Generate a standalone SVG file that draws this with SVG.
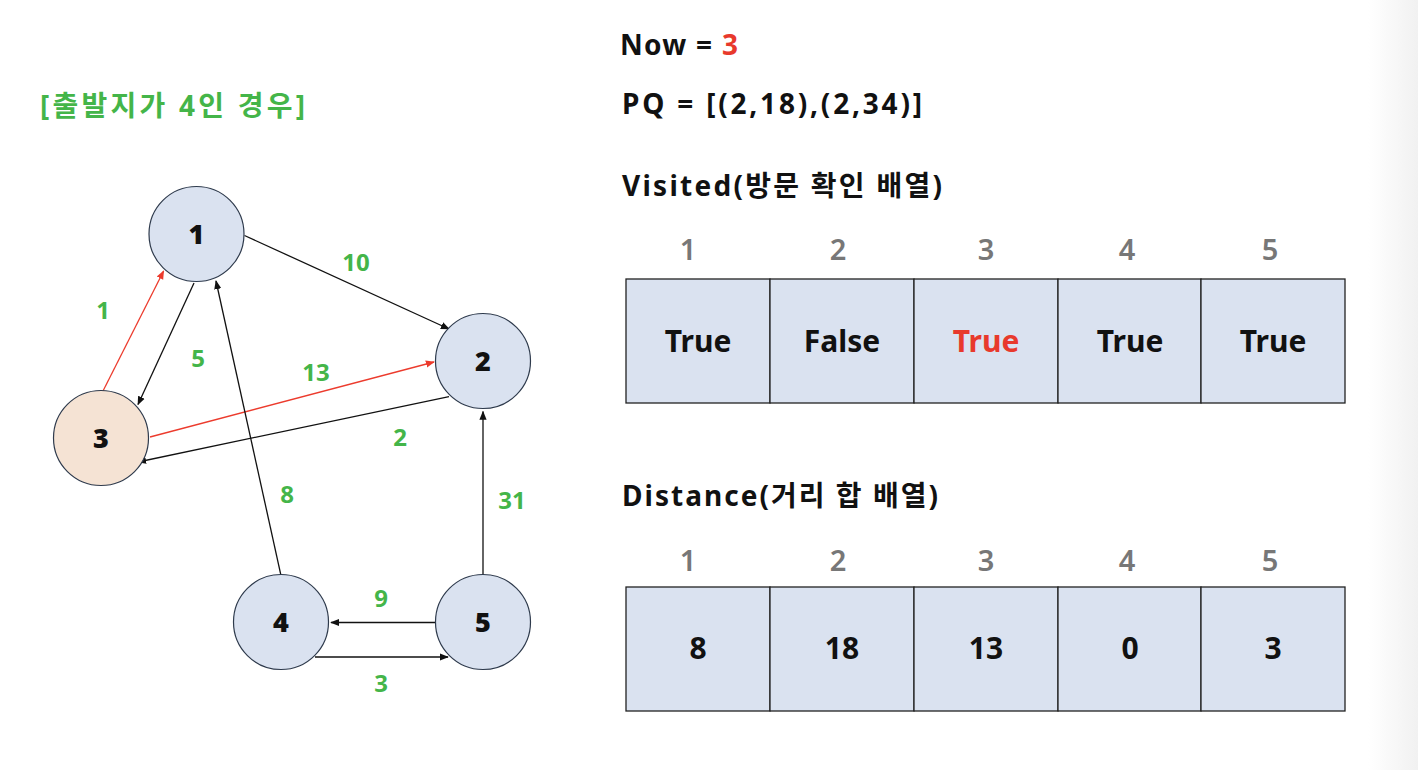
<svg xmlns="http://www.w3.org/2000/svg" width="1418" height="770" viewBox="0 0 1418 770">
<style>
.t{font-family:"Noto Sans","Noto Sans CJK KR",sans-serif;font-weight:bold}
.node circle{fill:#dae2f0;stroke:#2e3a4c;stroke-width:1.2}
.nl{font-size:27px;fill:#111;text-anchor:middle;font-weight:900}
.el{font-size:24px;fill:#44b549;text-anchor:middle}
.blk{stroke:#111;stroke-width:1.3;fill:none}
.red{stroke:#ec3b2d;stroke-width:1.3;fill:none}
.cell{fill:#dae2f0;stroke:#222;stroke-width:1.3}
.idx{font-size:29px;fill:#777;text-anchor:middle;font-weight:600}
.val{font-size:30px;fill:#111;text-anchor:middle}
.hd{font-size:28px;fill:#111}
</style>
<defs>
<marker id="ab" viewBox="0 0 10 10" refX="9" refY="5" markerWidth="9" markerHeight="9" markerUnits="userSpaceOnUse" orient="auto"><path d="M0,1 L10,5 L0,9 Z" fill="#111"/></marker>
<marker id="ar" viewBox="0 0 10 10" refX="9" refY="5" markerWidth="9" markerHeight="9" markerUnits="userSpaceOnUse" orient="auto"><path d="M0,1 L10,5 L0,9 Z" fill="#ec3b2d"/></marker>
<linearGradient id="side" x1="0" y1="0" x2="1" y2="0"><stop offset="0" stop-color="#ffffff"/><stop offset="1" stop-color="#f1f1f1"/></linearGradient>
</defs>
<rect x="0" y="0" width="1418" height="770" fill="#fff"/>
<rect x="1368" y="0" width="50" height="770" fill="url(#side)"/>

<text class="t" x="40" y="116" font-size="28" fill="#44b549" textLength="265">[출발지가 4인 경우]</text>

<g id="connectors">
<line class="blk" x1="244.5" y1="235.5" x2="449" y2="329" marker-end="url(#ab)"/>
<line class="red" x1="103" y1="391" x2="163.6" y2="271" marker-end="url(#ar)"/>
<line class="blk" x1="194" y1="283" x2="138" y2="404.5" marker-end="url(#ab)"/>
<line class="red" x1="150" y1="437" x2="434" y2="362" marker-end="url(#ar)"/>
<line class="blk" x1="449" y1="396.6" x2="138" y2="462" marker-end="url(#ab)"/>
<line class="blk" x1="281" y1="575.6" x2="216" y2="281" marker-end="url(#ab)"/>
<line class="blk" x1="483" y1="575.6" x2="483" y2="411.6" marker-end="url(#ab)"/>
<line class="blk" x1="435" y1="622.5" x2="331" y2="622.5" marker-end="url(#ab)"/>
<line class="blk" x1="315" y1="657" x2="448" y2="657" marker-end="url(#ab)"/>
<text class="t el" x="356" y="270.6">10</text>
<text class="t el" x="103" y="318.6">1</text>
<text class="t el" x="198" y="366.6">5</text>
<text class="t el" x="316" y="380.6">13</text>
<text class="t el" x="400" y="445.6">2</text>
<text class="t el" x="287" y="502.6">8</text>
<text class="t el" x="512" y="508.6">31</text>
<text class="t el" x="381" y="606.6">9</text>
<text class="t el" x="381" y="691.6">3</text>
</g>

<g id="node1" class="node"><circle cx="196.5" cy="234" r="47.5"/><text class="t nl" x="196.5" y="243.5">1</text></g>
<g id="node2" class="node"><circle cx="483" cy="361" r="47.5"/><text class="t nl" x="483" y="370.5">2</text></g>
<g id="node3" class="node"><circle cx="101" cy="438" r="47.5" style="fill:#f5e3d4"/><text class="t nl" x="101" y="447.5">3</text></g>
<g id="node4" class="node"><circle cx="281" cy="622" r="47.5"/><text class="t nl" x="281" y="631.5">4</text></g>
<g id="node5" class="node"><circle cx="483" cy="622" r="47.5"/><text class="t nl" x="483" y="631.5">5</text></g>

<g id="header">
<text class="t hd" x="620" y="55" textLength="118">Now = <tspan fill="#e8392c">3</tspan></text>
<text class="t hd" x="622" y="114" textLength="300">PQ = [(2,18),(2,34)]</text>
<text class="t hd" x="622" y="196" textLength="320">Visited(방문 확인 배열)</text>
<text class="t hd" x="622" y="506" textLength="316">Distance(거리 합 배열)</text>
</g>

<g id="visited">
<text class="t idx" x="688" y="260">1</text>
<text class="t idx" x="838" y="260">2</text>
<text class="t idx" x="986" y="260">3</text>
<text class="t idx" x="1127" y="260">4</text>
<text class="t idx" x="1270" y="260">5</text>
<rect class="cell" x="626" y="279" width="144" height="124"/>
<rect class="cell" x="770" y="279" width="144" height="124"/>
<rect class="cell" x="914" y="279" width="144" height="124"/>
<rect class="cell" x="1058" y="279" width="143" height="124"/>
<rect class="cell" x="1201" y="279" width="144" height="124"/>
<text class="t val" x="698" y="352">True</text>
<text class="t val" x="842" y="352">False</text>
<text class="t val" x="986" y="352" style="fill:#e8392c">True</text>
<text class="t val" x="1130" y="352">True</text>
<text class="t val" x="1273" y="352">True</text>
</g>

<g id="distance">
<text class="t idx" x="688" y="571">1</text>
<text class="t idx" x="838" y="571">2</text>
<text class="t idx" x="986" y="571">3</text>
<text class="t idx" x="1127" y="571">4</text>
<text class="t idx" x="1270" y="571">5</text>
<rect class="cell" x="626" y="587" width="144" height="124"/>
<rect class="cell" x="770" y="587" width="144" height="124"/>
<rect class="cell" x="914" y="587" width="144" height="124"/>
<rect class="cell" x="1058" y="587" width="143" height="124"/>
<rect class="cell" x="1201" y="587" width="144" height="124"/>
<text class="t val" x="698" y="659">8</text>
<text class="t val" x="842" y="659">18</text>
<text class="t val" x="986" y="659">13</text>
<text class="t val" x="1130" y="659">0</text>
<text class="t val" x="1273" y="659">3</text>
</g>
</svg>
